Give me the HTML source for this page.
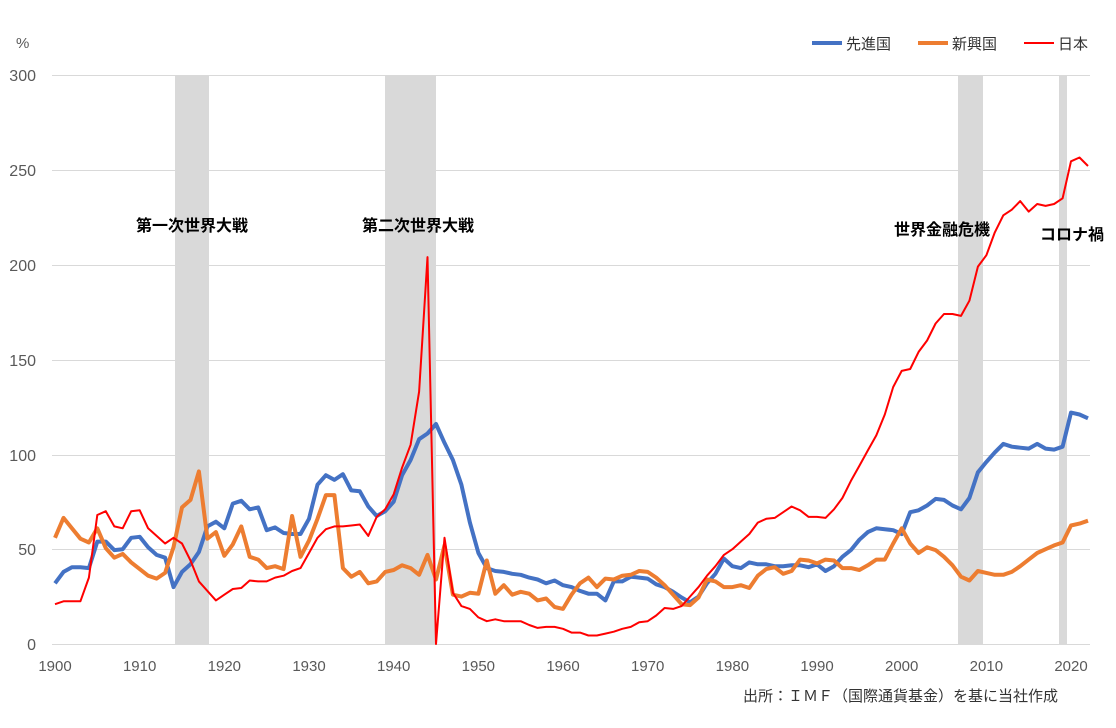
<!DOCTYPE html>
<html><head><meta charset="utf-8">
<style>
body{margin:0;background:#fff;width:1116px;height:728px;overflow:hidden}
svg{display:block}
text{font-family:"Liberation Sans","Noto Sans CJK JP",sans-serif}
</style></head><body>
<svg id="s" width="1116" height="728" xmlns="http://www.w3.org/2000/svg">
<rect x="175" y="75" width="34" height="569" fill="#d9d9d9"/>
<rect x="385" y="75" width="51" height="569" fill="#d9d9d9"/>
<rect x="958" y="75" width="25" height="569" fill="#d9d9d9"/>
<rect x="1059" y="75" width="8" height="569" fill="#d9d9d9"/>
<g stroke="#d9d9d9" stroke-width="1">
<line x1="52" x2="1090" y1="75.5" y2="75.5"/><line x1="52" x2="1090" y1="170.5" y2="170.5"/>
<line x1="52" x2="1090" y1="265.5" y2="265.5"/><line x1="52" x2="1090" y1="360.5" y2="360.5"/>
<line x1="52" x2="1090" y1="455.5" y2="455.5"/><line x1="52" x2="1090" y1="549.5" y2="549.5"/>
<line x1="52" x2="1090" y1="644.5" y2="644.5"/>
</g>
<g font-size="16" fill="#595959" text-anchor="end">
<text x="36" y="81">300</text><text x="36" y="176">250</text><text x="36" y="271">200</text>
<text x="36" y="366">150</text><text x="36" y="461">100</text><text x="36" y="555">50</text><text x="36" y="650">0</text>
</g>
<g font-size="15" fill="#595959" text-anchor="middle" id="xl"></g>
<text x="16" y="48" font-size="15" fill="#595959">%</text>
<g font-size="16" font-weight="bold" fill="#000" text-anchor="middle">
<text x="192" y="231">第一次世界大戦</text>
<text x="418" y="231">第二次世界大戦</text>
<text x="942" y="235">世界金融危機</text>
<text x="1072" y="240">コロナ禍</text>
</g>
<g font-size="15" fill="#333">
<line x1="812" x2="842" y1="43" y2="43" stroke="#4472c4" stroke-width="4"/><text x="846" y="49">先進国</text>
<line x1="918" x2="948" y1="43" y2="43" stroke="#ed7d31" stroke-width="4"/><text x="952" y="49">新興国</text>
<line x1="1024" x2="1054" y1="43" y2="43" stroke="#ff0000" stroke-width="2"/><text x="1058" y="49">日本</text>
</g>
<text x="1058" y="701" font-size="15" fill="#333" text-anchor="end">出所：ＩＭＦ（国際通貨基金）を基に当社作成</text>
<polyline id="pb" fill="none" stroke="#4472c4" stroke-width="4" stroke-linejoin="round"/>
<polyline id="po" fill="none" stroke="#ed7d31" stroke-width="4" stroke-linejoin="round"/>
<polyline id="pr" fill="none" stroke="#ff0000" stroke-width="2" stroke-linejoin="round"/>
</svg>
<script>
var B=[32,38,40.5,40.5,40,54,54,49.5,50,56,56.5,51,47,45.5,30,38,42,48.5,62,64.5,61,74,75.5,71,72,60,61.5,58.5,58,58,66,84,89,86.5,89.5,81,80.5,72.5,67.5,70,75,89,97,108,111,116,106,97,84,64,48,40,38.5,38,37,36.5,35,34,32,33.5,31,30,28,26.5,26.5,23,33,33,35.5,35,34.5,31.5,30,27.5,24.5,22,25,32,37,45,41,40,43,42,42,41,41,41.5,41.5,40.5,42,38.5,41,46,49.5,55,59,61,60.5,60,58,69.5,70.5,73,76.5,76,73,71,77,90.5,96,101,105.5,104,103.5,103,105.5,103,102.5,104,122,121,119];
var O=[56,66.5,61,55.5,53.5,61,50.5,45.5,47.5,43,39.5,36,34.5,37.5,51,72,76,91,55.5,59,46.5,52.5,62,46,44.5,40,41,39.5,67.5,46,54.5,66,78.5,78.5,40,35.5,38,32,33,38,39,41.5,40,36.5,47,34,52,26,25,27,26.5,44,26.5,31,26,27.5,26.5,23,24,19.5,18.5,26,32,35,30,34.5,34,36,36.5,38.5,38,35,31,26,21,20.5,24.5,34,33,30,30,31,29.5,36,39.5,40.5,37,38.5,44.5,44,42.5,44.5,44,40,40,39,41.5,44.5,44.5,53,61,53,48,51,49.5,46,41.5,37,35.5,33.5,38.5,37.5,36.5,36.5,38,41,44.5,48,50,52,53.5,62.5,63.5,65];
var R=[21,22.5,22.5,22.5,35,68,70,62,61,70,70.5,61,57,53,56,53,44,33,28,23,26,29,29.5,33.5,33,33,35,36,38.5,40,48,56,60.5,62,62,62.5,63,57,67,71,79,93,105,133,204,0,56,27,20,18.5,14,12,13,12,12,12,10,8.5,9,9,8,6,6,4.5,4.5,5.5,6.5,8,9,11.5,12,15,19,18.5,20,25,30,36,41,47,50,54,58,64,66,66.5,69.5,72.5,70.5,67,67,66.5,71,77,86,94,102,110,121,135.5,144,145,154,160,169,174,174,173,181,199,205,217,226,229,233.5,228,232,231,232,235,254.5,256.5,252];
O.splice(107,1);
function pts(a){return a.map(function(v,i){return (55+i*8.467).toFixed(1)+","+(644-v*1.8967).toFixed(1)}).join(" ")}
document.getElementById("pb").setAttribute("points",pts(B));
document.getElementById("po").setAttribute("points",pts(O));
document.getElementById("pr").setAttribute("points",pts(R));
var g=document.getElementById("xl"),ns="http://www.w3.org/2000/svg";
for(var y=1900;y<=2020;y+=10){var t=document.createElementNS(ns,"text");t.setAttribute("x",55+(y-1900)*8.467);t.setAttribute("y",671);t.textContent=y;g.appendChild(t);}
</script>
</body></html>
